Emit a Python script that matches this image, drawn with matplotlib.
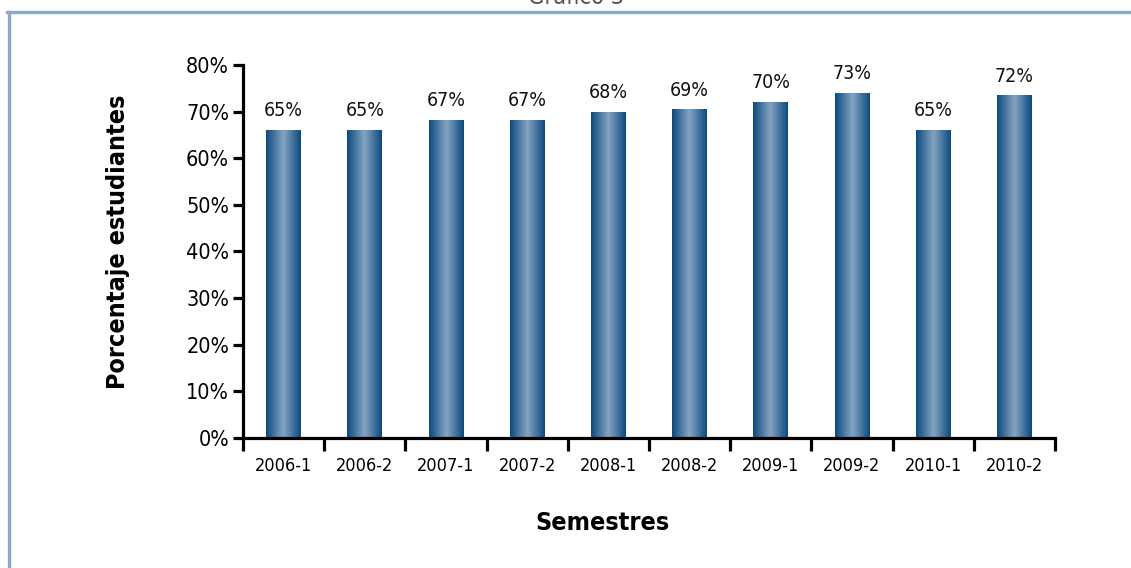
import numpy as np
import matplotlib.pyplot as plt
from matplotlib import font_manager
from matplotlib.colors import LinearSegmentedColormap
from matplotlib.lines import Line2D

# Data
semestres = ["2006-1", "2006-2", "2007-1", "2007-2", "2008-1",
             "2008-2", "2009-1", "2009-2", "2010-1", "2010-2"]
porcentaje = [65.9, 65.9, 68.2, 68.2, 69.8, 70.4, 72.0, 73.9, 65.9, 73.4]
etiquetas = ["65%", "65%", "67%", "67%", "68%", "69%", "70%", "73%", "65%", "72%"]
yticks = [0, 10, 20, 30, 40, 50, 60, 70, 80]

# Condensed font if available
names = {f.name for f in font_manager.fontManager.ttflist}
fam = "Liberation Sans Narrow" if "Liberation Sans Narrow" in names else "DejaVu Sans"
plt.rcParams['font.family'] = [fam, 'DejaVu Sans']
plt.rcParams['font.stretch'] = 'condensed'

fig = plt.figure(figsize=(11.31, 5.68), dpi=100)
ax = fig.add_axes([243 / 1131, 1 - 438 / 568, (1055 - 243) / 1131, (438 - 65) / 568])

# gradient colormap: dark edges, light centre
cmap = LinearSegmentedColormap.from_list("barra", ["#0a4a80", "#86a4c1", "#0a4a80"])
grad = np.linspace(0, 1, 256).reshape(1, -1)

x = np.arange(len(semestres))
width = 0.43
for xi, val, lab in zip(x, porcentaje, etiquetas):
    ax.imshow(grad, extent=[xi - width / 2, xi + width / 2, 0, val],
              aspect='auto', cmap=cmap, zorder=2, interpolation='bicubic')
    ax.text(xi, val + 2.2, lab, ha='center', va='bottom', fontsize=14, color='#111111')

ax.set_xlim(-0.5, len(semestres) - 0.5)
ax.set_ylim(0, 80)

ax.spines['top'].set_visible(False)
ax.spines['right'].set_visible(False)
for s in ['left', 'bottom']:
    ax.spines[s].set_linewidth(2.3)

ax.set_yticks(yticks)
ax.set_yticklabels([f"{v}%" for v in yticks], fontsize=15.5)
ax.tick_params(axis='y', length=7, width=2.3, pad=3)

ax.set_xticks(x)
ax.set_xticklabels(semestres, fontsize=13)
ax.set_xticks(np.arange(-0.5, len(semestres)), minor=True)
ax.tick_params(axis='x', which='major', length=0, pad=14)
ax.tick_params(axis='x', which='minor', length=9, width=2.3)

fig.text(118 / 1131, 1 - 242 / 568, "Porcentaje estudiantes", rotation=90,
         ha='center', va='center', fontsize=18, fontweight='bold')
fig.text(602 / 1131, 1 - 523 / 568, "Semestres", ha='center', va='center',
         fontsize=18, fontweight='bold')

# title, mostly cut off at the top as in the original
fig.text(576 / 1131, 1 - 4 / 568, "Gráfico 3", ha='center', va='baseline',
         fontsize=17, color='#555555')

# frame
frame = '#8ba9c8'
fig.add_artist(Line2D([8.5 / 1131, 8.5 / 1131], [0, 1 - 12 / 568],
                      transform=fig.transFigure, color=frame, lw=2.4))
fig.add_artist(Line2D([7.3 / 1131, 1], [1 - 12 / 568, 1 - 12 / 568],
                      transform=fig.transFigure, color=frame, lw=2.4))

fig.savefig("out.png", dpi=100)
